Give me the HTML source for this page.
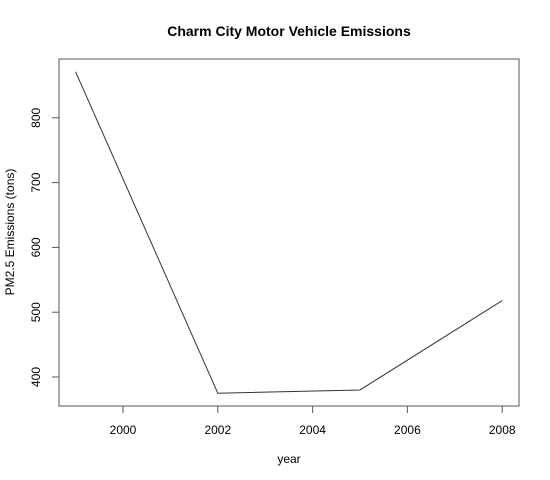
<!DOCTYPE html>
<html><head><meta charset="utf-8"><style>body{margin:0;background:#fff}svg{display:block;font-family:"Liberation Sans",Arial,sans-serif}</style></head>
<body>
<svg width="550" height="480" id="c">
<text x="289" y="36" text-anchor="middle" font-size="14" font-weight="bold">Charm City Motor Vehicle Emissions</text>
<rect x="59" y="59" width="460" height="347" fill="none" stroke="#555"/>
<text x="289" y="463" text-anchor="middle" font-size="12">year</text>
<text transform="translate(14,232) rotate(-90)" text-anchor="middle" font-size="12">PM2.5 Emissions (tons)</text>
<g id="ax"></g>
</svg>
<script>
const years=[1999,2002,2005,2008];
const emissions=[871,375,380,518];
const xTicks=[2000,2002,2004,2006,2008];
const yTicks=[400,500,600,700,800];
const X=v=>123+(v-2000)*47.4;
const Y=v=>377-(v-400)*0.648;
const ns="http://www.w3.org/2000/svg",g=document.getElementById('ax');
function mk(t,a){const e=document.createElementNS(ns,t);for(const k in a)e.setAttribute(k,a[k]);g.appendChild(e);return e;}
xTicks.forEach(t=>{
 const l=mk('line',{x1:X(t),x2:X(t),y1:406,y2:413,stroke:'#555'});
 
 
 const s=mk('text',{x:X(t),y:434,'text-anchor':'middle','font-size':12});s.textContent=t;
 
 
});
const yl=mk('line',{x1:59,x2:59,y1:Y(400),y2:Y(800),stroke:'#555'});


yTicks.forEach(t=>{
 const l=mk('line',{x1:52,x2:59,y1:Y(t),y2:Y(t),stroke:'#555'});
 
 
 const s=mk('text',{transform:`translate(40,${Y(t)}) rotate(-90)`,'text-anchor':'middle','font-size':12});s.textContent=t;
 
 
});
const p=mk('polyline',{points:years.map((y,i)=>X(y)+','+Y(emissions[i])).join(' '),fill:'none',stroke:'#333','stroke-width':1});


</script>
</body></html>
